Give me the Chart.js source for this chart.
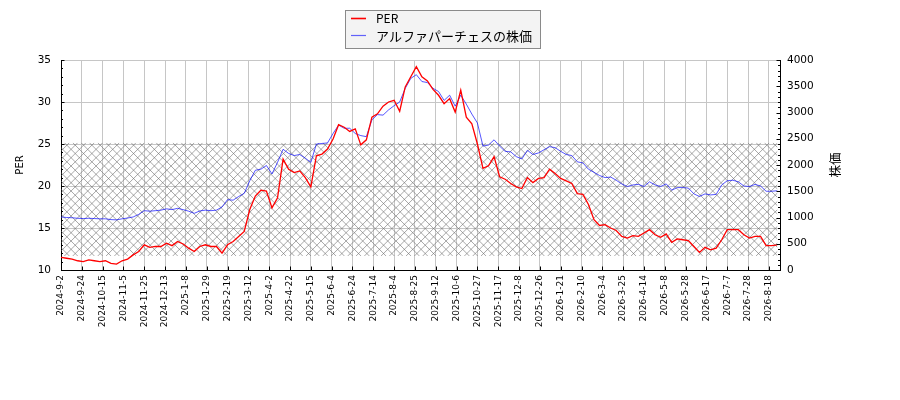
<!DOCTYPE html>
<html>
<head>
<meta charset="utf-8">
<script src="https://cdn.jsdelivr.net/npm/chart.js@4.4.1/dist/chart.umd.min.js"></script>
<style>
html,body{margin:0;padding:0;background:#fff;}
#wrap{width:900px;height:400px;position:relative;}
</style>
</head>
<body>
<div id="wrap"><canvas id="c" width="900" height="400"></canvas></div>
<script>
// tick labels every 15 trading days
const tickLabels = ["2024-9-2","2024-9-24","2024-10-15","2024-11-5","2024-11-25","2024-12-13","2025-1-8","2025-1-29","2025-2-19","2025-3-12","2025-4-2","2025-4-22","2025-5-15","2025-6-4","2025-6-24","2025-7-14","2025-8-4","2025-8-25","2025-9-12","2025-10-6","2025-10-27","2025-11-17","2025-12-8","2025-12-26","2026-1-21","2026-2-10","2026-3-4","2026-3-25","2026-4-14","2026-5-8","2026-5-28","2026-6-17","2026-7-7","2026-7-28","2026-8-18"];
const tickStep = 15;      // trading days between labels
const sampleStep = 4;     // trading days between stored samples
const lastIndex = 518;    // x-axis extent (trading days)

const perValues = [11.5,11.4,11.3,11.1,11.0,11.2,11.1,11.0,11.1,10.8,10.7,11.1,11.3,11.8,12.2,13.0,12.7,12.8,12.8,13.2,12.9,13.4,
13.1,12.6,12.2,12.8,13.0,12.8,12.8,12.0,13.0,13.4,14.0,14.6,17.2,18.8,19.5,19.4,17.4,18.6,23.2,22.0,21.6,
21.8,21.0,19.9,23.6,23.8,24.4,25.6,27.3,27.0,26.5,26.8,24.9,25.5,28.2,28.6,29.5,30.0,30.2,28.9,31.8,33.0,
34.2,33.0,32.5,31.5,30.8,29.8,30.4,28.8,31.4,28.2,27.4,25.0,22.1,22.4,23.5,21.1,20.8,20.3,19.9,19.7,21.0,20.4,
20.9,21.0,22.0,21.5,20.9,20.6,20.3,19.1,19.0,17.8,16.0,15.3,15.4,15.0,14.7,14.0,13.8,14.1,14.0,14.4,14.8,14.2,
13.9,14.3,13.3,13.7,13.6,13.5,12.8,12.1,12.7,12.4,12.6,13.6,14.8,14.8,14.8,14.2,13.8,14.0,14.0,12.9,12.9,13.0];

const priceValues = [1010,1000,995,985,980,985,980,975,975,960,955,975,990,1010,1060,1130,1120,1130,1140,1165,1150,1175,
1150,1120,1080,1125,1140,1130,1140,1200,1340,1330,1400,1460,1700,1900,1920,1990,1830,2050,2300,2220,2180,
2200,2130,2050,2400,2410,2420,2600,2760,2700,2700,2600,2560,2540,2860,2960,2950,3050,3130,3200,3460,3650,
3720,3590,3570,3460,3400,3230,3330,3120,3330,3160,2970,2800,2360,2380,2480,2360,2260,2250,2160,2115,2280,2200,
2230,2290,2350,2330,2260,2200,2180,2060,2040,1920,1860,1800,1760,1770,1710,1640,1590,1620,1630,1590,1680,1620,
1590,1640,1520,1570,1570,1560,1450,1400,1450,1430,1440,1620,1700,1710,1680,1600,1590,1630,1600,1500,1500,1510];

const bandPER = [11.67, 25.15]; // hatched band (PER units)

const seriesNames = ["PER", "アルファパーチェスの株価"];
const axisTitles = ["PER", "株価"];

const perData = perValues.map((v,i)=>({x:i*sampleStep, y:v}));
const priceData = priceValues.map((v,i)=>({x:i*sampleStep, y:v}));

const decor = {
  id:'decor',
  beforeDatasetsDraw(chart){
    const {ctx} = chart;
    const xs = chart.scales.x, ys = chart.scales.y;
    const x0 = xs.getPixelForValue(0);
    const x1 = xs.getPixelForValue((perValues.length-1)*sampleStep);
    const yT = ys.getPixelForValue(bandPER[1]);
    const yB = ys.getPixelForValue(bandPER[0]);
    ctx.save();
    ctx.beginPath(); ctx.rect(x0, yT, x1-x0, yB-yT); ctx.clip();
    ctx.strokeStyle = 'rgba(110,110,110,0.6)';
    ctx.lineWidth = 1;
    const h = yB - yT, sp = 100/12;
    ctx.beginPath();
    for (let c = x0 - h - sp; c < x1 + h + sp; c += sp){
      ctx.moveTo(c, yB); ctx.lineTo(c + h, yT);
      ctx.moveTo(c, yT); ctx.lineTo(c + h, yB);
    }
    ctx.stroke();
    ctx.restore();
  },
  afterDraw(chart){
    const {ctx, chartArea:a} = chart;
    const xs = chart.scales.x, ys = chart.scales.y, y2 = chart.scales.y2;
    ctx.save();
    ctx.strokeStyle = '#000'; ctx.lineWidth = 1;
    ctx.beginPath();
    xs.ticks.forEach(t=>{
      const px = Math.round(xs.getPixelForValue(t.value))+0.5;
      ctx.moveTo(px, a.bottom); ctx.lineTo(px, a.bottom-3.5);
    });
    for (let v=10; v<=35; v++){
      const py = Math.round(ys.getPixelForValue(v))+0.5;
      const len = (v%5===0)?3.5:2;
      ctx.moveTo(a.left, py); ctx.lineTo(a.left+len, py);
    }
    for (let v=0; v<=4000; v+=100){
      const py = Math.round(y2.getPixelForValue(v))+0.5;
      const len = (v%500===0)?3.5:2;
      ctx.moveTo(a.right, py); ctx.lineTo(a.right-len, py);
    }
    ctx.stroke();

    ctx.fillStyle = '#000';
    ctx.textAlign = 'center'; ctx.textBaseline = 'middle';
    ctx.save();
    ctx.translate(20, (a.top+a.bottom)/2); ctx.rotate(-Math.PI/2);
    ctx.font = '10px "DejaVu Sans"';
    ctx.fillText(axisTitles[0], 0, 0);
    ctx.restore();
    ctx.save();
    ctx.translate(835, (a.top+a.bottom)/2); ctx.rotate(-Math.PI/2);
    ctx.font = '12.5px "Noto Sans CJK JP"';
    ctx.fillText(axisTitles[1], 0, 0);
    ctx.restore();

    const bx = 345.5, by = 10.5, bw = 195, bh = 38;
    ctx.fillStyle = '#f3f3f3';
    ctx.strokeStyle = '#8a8a8a';
    ctx.fillRect(bx, by, bw, bh);
    ctx.strokeRect(bx, by, bw, bh);
    ctx.lineWidth = 1.6; ctx.strokeStyle = 'red';
    ctx.beginPath(); ctx.moveTo(351, 18.5); ctx.lineTo(366, 18.5); ctx.stroke();
    ctx.lineWidth = 1.2; ctx.strokeStyle = 'rgba(0,0,255,0.6)';
    ctx.beginPath(); ctx.moveTo(351, 35.5); ctx.lineTo(366, 35.5); ctx.stroke();
    ctx.fillStyle = '#000'; ctx.textAlign = 'left';
    ctx.font = '12px "Noto Sans CJK JP"';
    ctx.fillText(seriesNames[0], 376, 18.5);
    ctx.font = '13px "Noto Sans CJK JP"';
    ctx.fillText(seriesNames[1], 376, 36);
    ctx.restore();
  }
};

new Chart(document.getElementById('c'), {
  type:'line',
  data:{
    datasets:[
      {label:seriesNames[0], data:perData, yAxisID:'y', borderColor:'#ff0000', borderWidth:1.3, pointRadius:0, tension:0, fill:false},
      {label:seriesNames[1], data:priceData, yAxisID:'y2', borderColor:'rgba(0,0,255,0.75)', borderWidth:0.9, pointRadius:0, tension:0, fill:false}
    ]
  },
  plugins:[decor],
  options:{
    responsive:false, animation:false, devicePixelRatio:1,
    layout:{padding:{top:60,left:0,right:0,bottom:0}},
    plugins:{legend:{display:false}, tooltip:{enabled:false}},
    scales:{
      x:{
        type:'linear', min:0, max:lastIndex,
        afterBuildTicks(s){ s.ticks = tickLabels.map((l,i)=>({value:i*tickStep})); },
        afterFit(s){ s.height = 130; },
        ticks:{autoSkip:false, maxRotation:90, minRotation:90, padding:5, color:'#000',
          font:{family:'DejaVu Sans', size:9},
          callback(v){ return tickLabels[Math.round(v/tickStep)]; }},
        grid:{color:'#c6c6c6', lineWidth:1, drawTicks:false},
        border:{display:true, color:'#000', width:1}
      },
      y:{
        position:'left', min:10, max:35,
        afterFit(s){ s.width = 61; },
        ticks:{stepSize:5, padding:10, color:'#000', font:{family:'DejaVu Sans', size:10.5},
          callback(v){ return String(v); }},
        grid:{color:'#c6c6c6', lineWidth:1, drawTicks:false},
        border:{display:true, color:'#000', width:1}
      },
      y2:{
        position:'right', min:0, max:4000,
        afterFit(s){ s.width = 120; },
        ticks:{stepSize:500, padding:7, color:'#000', font:{family:'DejaVu Sans', size:10.5},
          callback(v){ return String(v); }},
        grid:{drawOnChartArea:false, drawTicks:false},
        border:{display:true, color:'#000', width:1}
      }
    }
  }
});
</script>
</body>
</html>
